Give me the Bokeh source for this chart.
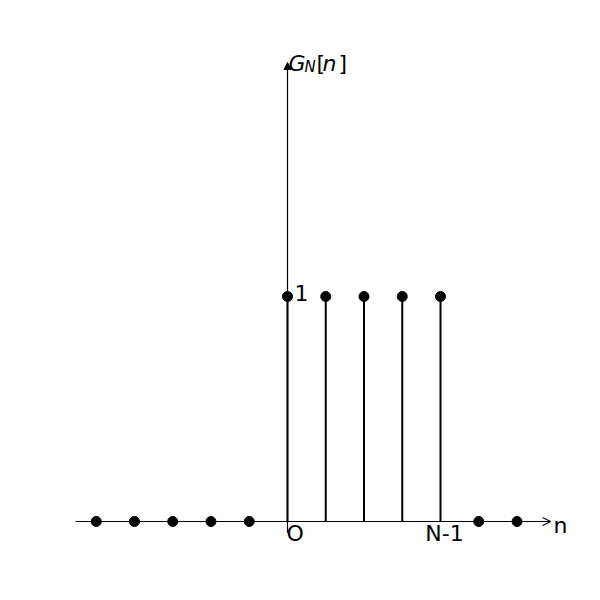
from bokeh.plotting import figure
from bokeh.models import Arrow, OpenHead, NormalHead, ColumnDataSource, Range1d
from bokeh.core.properties import value
from bokeh.embed import file_html
from bokeh.resources import INLINE

# Data
n_values = [-5, -4, -3, -2, -1, 0, 1, 2, 3, 4, 5, 6]
g_values = [0, 0, 0, 0, 0, 1, 1, 1, 1, 1, 0, 0]

FONT = value("DejaVu Sans")

W = 584
H = 584
X0 = -287 / 38.25
Y1 = 521 / 225

p = figure(width=W, height=H, output_backend="svg", toolbar_location=None,
           x_range=Range1d(X0, X0 + W / 38.25), y_range=Range1d(Y1 - H / 225, Y1),
           min_border=0)
p.xaxis.visible = False
p.yaxis.visible = False
p.grid.visible = False
p.outline_line_color = None
p.background_fill_color = "white"

# Axes arrows
p.add_layout(Arrow(end=OpenHead(size=8, line_width=1.2, line_color="black"),
                   x_start=-5.54, y_start=0, x_end=6.88, y_end=0,
                   line_color="black", line_width=1.2))
p.add_layout(Arrow(end=NormalHead(size=7, line_color="black", fill_color="black", line_width=1),
                   x_start=0, y_start=-0.05, x_end=0, y_end=2.04,
                   line_color="black", line_width=1.2))

src = ColumnDataSource(dict(n=n_values, g=g_values, base=[0] * len(n_values)))
p.segment(x0="n", y0="base", x1="n", y1="g", source=src, line_color="black", line_width=2)
p.scatter(x="n", y="g", source=src, size=10, color="black")

def px_x(px):
    return (px - 287) / 38.25

def px_y(py):
    return (521 - py) / 225

def label(txt, x, y, size="22px", style="normal", align="left", baseline="alphabetic"):
    p.text(x=[x], y=[y], text=[txt], text_font=FONT, text_font_size=size,
           text_font_style=style, text_align=align, text_baseline=baseline,
           text_color="black")

# Y label G_N[n]
label("G", px_x(288), px_y(63), size="22px", style="italic")
label("N", px_x(304), px_y(66), size="15px", style="italic")
label("[", px_x(316), px_y(63), size="22px")
label("n", px_x(322), px_y(63), size="22px", style="italic")
label("]", px_x(338), px_y(63), size="22px")

label("1", px_x(294), px_y(292), baseline="middle")
label("O", px_x(286), px_y(533), baseline="middle")
label("N-1", px_x(444), px_y(533), align="center", baseline="middle")
label("n", px_x(553), px_y(525), baseline="middle")

open("out.html", "w").write(file_html(p, INLINE))
